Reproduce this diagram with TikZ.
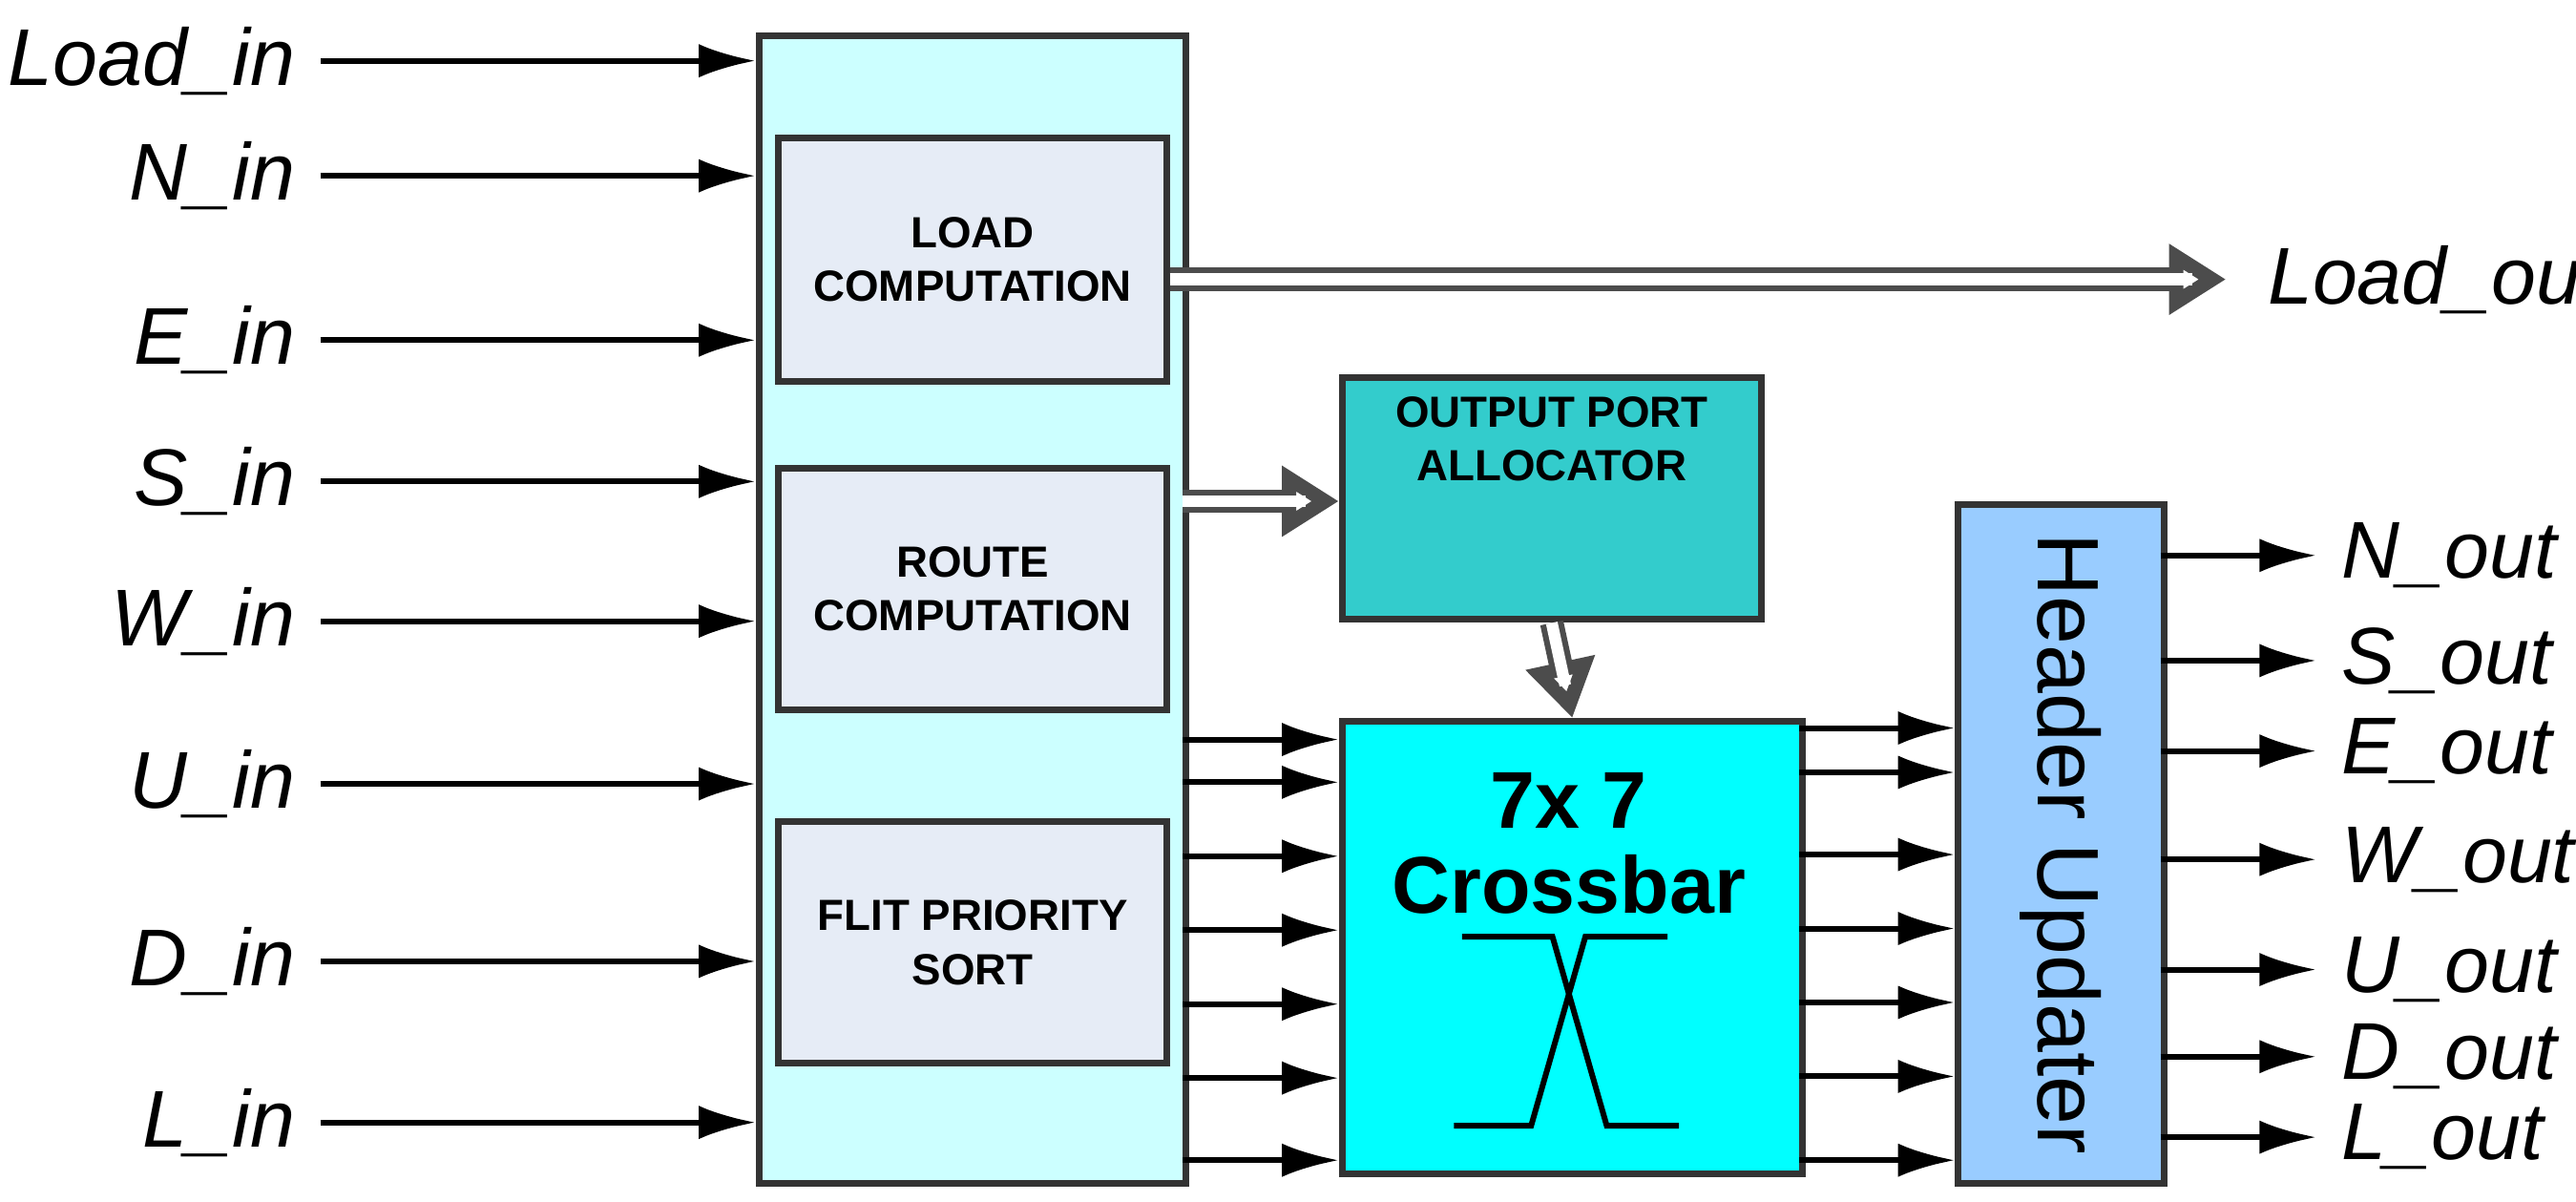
\documentclass[tikz,border=0pt]{standalone}
\usepackage{fontspec}
\setmainfont{Liberation Sans}
\usetikzlibrary{arrows.meta}
\definecolor{mainc}{RGB}{204,255,255}
\definecolor{subc}{RGB}{230,236,246}
\definecolor{opac}{RGB}{51,204,204}
\definecolor{cbc}{RGB}{0,255,255}
\definecolor{huc}{RGB}{153,204,255}
\begin{document}
\begin{tikzpicture}[x=0.017213cm,y=-0.017213cm,
 blk/.style={draw=black!80,line width=2pt,inner sep=0pt},
 sub/.style={blk,fill=subc,align=center,font=\fontsize{13}{16}\selectfont\bfseries},
 lab/.style={font=\fontsize{24}{28}\selectfont\itshape,inner sep=0pt},
 sig/.style={-{Latex[length=17pt,width=10pt]},line width=1.7pt},
 big/.style={-{Triangle[open,length=17pt,width=20pt]},line width=7pt,draw=black!70,
   postaction={draw=white,line width=3.5pt,-,shorten >=10pt}}]
\useasboundingbox (0,0) rectangle (1568,731);
\node[blk,fill=mainc,minimum width=4.475cm,minimum height=12.015cm,anchor=north west] (main) at (460,20) {};
\node[sub,minimum width=4.062cm,minimum height=2.548cm,anchor=north west] (lc) at (472,82) {LOAD\\COMPUTATION};
\node[sub,minimum width=4.062cm,minimum height=2.53cm,anchor=north west] (rc) at (472,283) {ROUTE\\COMPUTATION};
\node[sub,minimum width=4.062cm,minimum height=2.53cm,anchor=north west] (fp) at (472,498) {FLIT PRIORITY\\SORT};
\node[blk,fill=opac,minimum width=4.389cm,minimum height=2.53cm,anchor=north west,align=center,font=\fontsize{13}{16}\selectfont\bfseries] (opa) at (815,228) {OUTPUT PORT\\ALLOCATOR\\[20pt]};
\node[blk,fill=cbc,minimum width=4.82cm,minimum height=4.734cm,anchor=north west] (cb) at (815,437) {};
\node[font=\fontsize{24}{28}\selectfont\bfseries,inner sep=0pt] (t1) at (955,487) {7x 7};
\node[font=\fontsize{24}{28}\selectfont\bfseries,inner sep=0pt] (t2) at (955,538) {Crossbar};
\draw[line width=1.7pt] (890,570)--(945,570)--(978,685)--(1022,685);
\draw[line width=1.7pt] (1015,570)--(965,570)--(932,685)--(885,685);
\node[blk,fill=huc,minimum width=2.152cm,minimum height=7.109cm,anchor=north west] (hu) at (1190,305) {};
\node[rotate=-90,font=\fontsize{26}{30}\selectfont] (hut) at (hu.center) {Header Updater};
% inputs
\foreach \n/\y in {Load\_in/37,N\_in/107,E\_in/207,S\_in/293,W\_in/378,U\_in/477,D\_in/585,L\_in/683}{
 \node[lab,anchor=east] (i\y) at (180,\y) {\n};
 \coordinate (s\y) at (195,\y);
 \draw[sig] (s\y) -- (main.west |- s\y);
}
% crossbar inputs
\foreach \y in {450,476,521,566,611,656,706}{
 \coordinate (c\y) at (720,\y);
 \draw[sig] (c\y) -- (cb.west |- c\y);
}
\foreach \y in {443,470,520,565,610,655,706}{
 \coordinate (d\y) at (1095,\y);
 \draw[sig] (d\y) -- (hu.west |- d\y);
}
\foreach \n/\y in {N\_out/338,S\_out/402,E\_out/457,W\_out/523,U\_out/590,D\_out/643,L\_out/692}{
 \coordinate (o\y) at (1315,\y);
 \coordinate (e\y) at (1410,\y);
 \draw[sig] (o\y) -- (e\y);
 \node[lab,anchor=west] (n\y) at (1425,\y) {\n};
}
\coordinate (lo) at (1355,170);
\node[lab,anchor=west] (lot) at (1380,170) {Load\_out};
\draw[big] (lc.east |- lo) -- (lo);
\coordinate (ra) at (720,305);
\draw[big] (ra) -- (opa.west |- ra);
\draw[big] (opa.south) -- (cb.north);
\end{tikzpicture}
\end{document}
